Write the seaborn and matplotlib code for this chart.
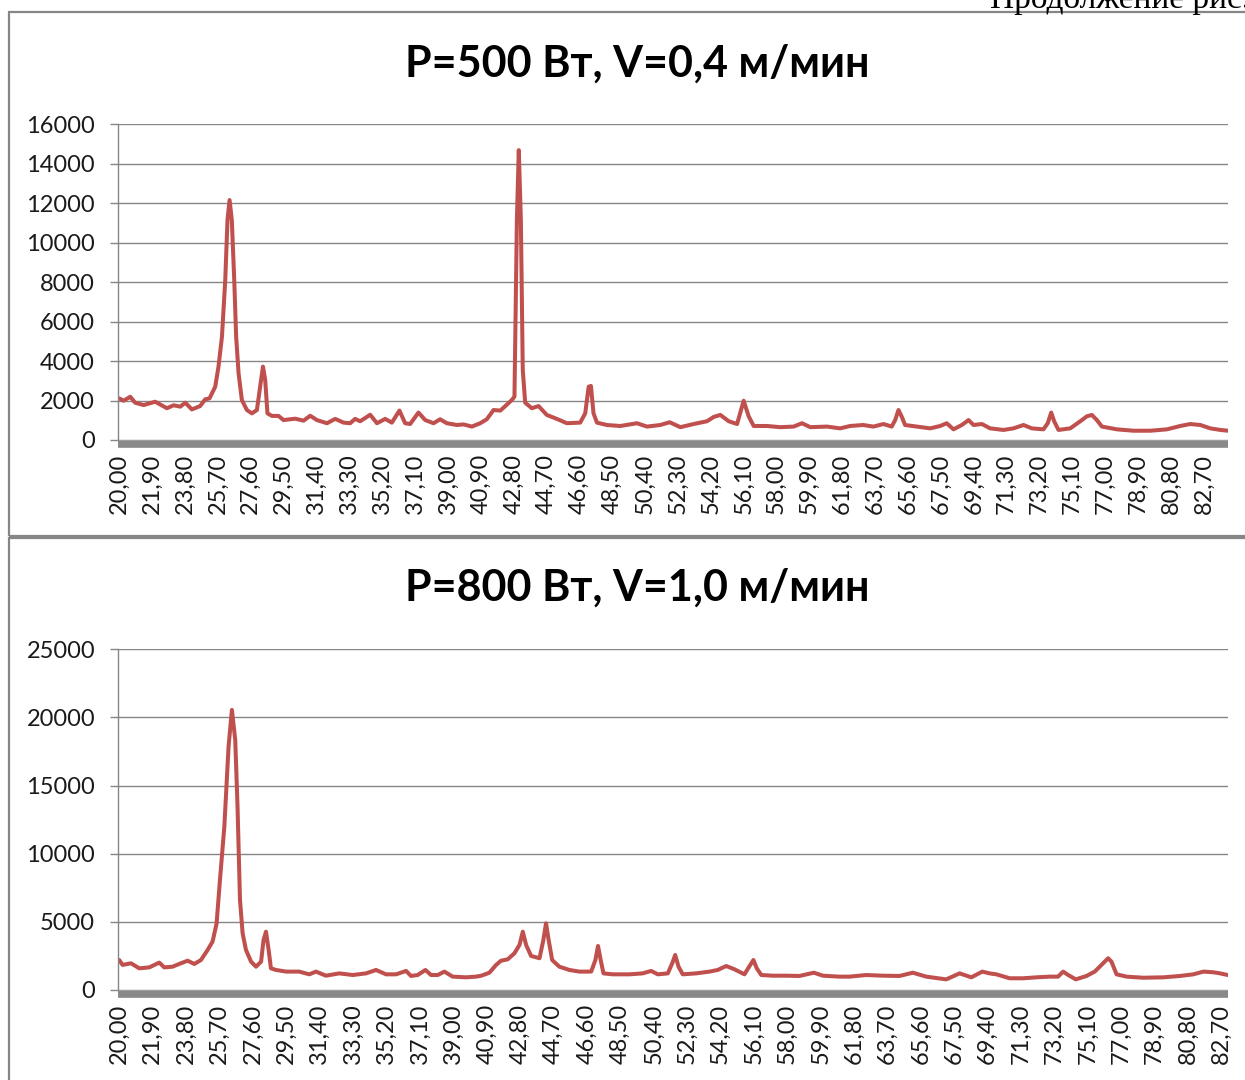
import matplotlib
matplotlib.use("Agg")
import matplotlib.pyplot as plt
from matplotlib.patches import Rectangle
import seaborn as sns
import pandas as pd

# 2theta, deg / intensity
theta_500 = [20.00, 20.25, 20.64, 20.92, 21.41, 22.08, 22.76, 23.14, 23.53, 23.82,
             24.20, 24.68, 24.97, 25.22, 25.55, 25.74, 25.94, 26.13, 26.26, 26.38,
             26.51, 26.65, 26.76, 26.90, 27.09, 27.38, 27.67, 27.96, 28.15, 28.31,
             28.44, 28.57, 28.83, 29.21, 29.50, 30.17, 30.66, 31.04, 31.43, 32.01,
             32.49, 32.97, 33.35, 33.64, 33.93, 34.51, 34.90, 35.38, 35.76, 36.20,
             36.53, 36.82, 37.30, 37.69, 38.17, 38.55, 38.94, 39.52, 39.90, 40.39,
             40.87, 41.25, 41.64, 42.03, 42.32, 42.70, 42.85, 42.99, 43.10, 43.22,
             43.33, 43.47, 43.85, 44.24, 44.72, 45.30, 45.88, 46.65, 46.94, 47.14,
             47.27, 47.42, 47.62, 48.19, 48.97, 49.93, 50.51, 51.28, 51.82, 52.44,
             53.21, 53.98, 54.37, 54.75, 55.24, 55.72, 56.10, 56.39, 56.68, 57.45,
             58.22, 58.99, 59.47, 59.95, 60.91, 61.68, 62.25, 63.00, 63.60, 64.18,
             64.66, 64.86, 65.05, 65.24, 65.43, 66.11, 66.88, 67.46, 67.84, 68.23,
             68.71, 69.10, 69.39, 69.87, 70.35, 71.12, 71.70, 72.28, 72.76, 73.43,
             73.68, 73.88, 74.05, 74.30, 74.98, 75.56, 75.94, 76.23, 76.52, 76.81,
             77.68, 78.64, 79.61, 80.57, 81.34, 81.92, 82.50, 83.08, 83.66, 84.10]
int_500 = [2110, 1990, 2190, 1890, 1770, 1940, 1610, 1760, 1690, 1890,
           1550, 1720, 2060, 2110, 2700, 3720, 5240, 8110, 11150, 12160,
           11150, 8110, 5240, 3380, 2030, 1520, 1350, 1520, 2700, 3720,
           3040, 1350, 1220, 1220, 1010, 1080, 980, 1230, 1010, 850,
           1070, 880, 850, 1070, 950, 1280, 850, 1070, 880, 1490,
           850, 810, 1390, 1010, 850, 1050, 850, 760, 790, 680,
           850, 1050, 1520, 1490, 1720, 2030, 2200, 11150, 14690, 11150,
           3550, 1890, 1610, 1720, 1270, 1070, 850, 880, 1350, 2700,
           2740, 1350, 880, 760, 710, 850, 680, 760, 900, 650,
           810, 950, 1170, 1270, 950, 810, 1990, 1200, 710, 710,
           650, 680, 850, 650, 680, 590, 710, 760, 680, 810,
           680, 1010, 1520, 1180, 760, 680, 590, 710, 850, 540,
           760, 1010, 760, 810, 590, 510, 590, 760, 590, 540,
           850, 1390, 950, 510, 590, 950, 1200, 1270, 1010, 680,
           540, 470, 470, 540, 710, 810, 760, 590, 510, 470]

theta_800 = [20.00, 20.19, 20.67, 21.14, 21.71, 22.28, 22.56, 23.03, 23.41, 23.89,
             24.27, 24.65, 25.03, 25.31, 25.54, 25.73, 25.98, 26.22, 26.41, 26.60,
             26.73, 26.87, 27.02, 27.21, 27.50, 27.78, 28.07, 28.21, 28.35, 28.50,
             28.63, 28.92, 29.49, 30.24, 30.81, 31.19, 31.76, 32.52, 33.28, 34.04,
             34.61, 35.18, 35.75, 36.32, 36.60, 36.98, 37.42, 37.74, 38.12, 38.50,
             38.97, 39.73, 40.30, 40.60, 41.06, 41.44, 41.72, 42.10, 42.48, 42.77,
             42.96, 43.15, 43.43, 43.91, 44.13, 44.28, 44.43, 44.63, 45.04, 45.61,
             46.18, 46.85, 47.09, 47.24, 47.39, 47.55, 48.08, 49.03, 49.78, 50.26,
             50.64, 51.21, 51.46, 51.63, 51.82, 52.06, 52.82, 53.58, 54.05, 54.53,
             55.00, 55.57, 55.90, 56.08, 56.27, 56.53, 57.18, 57.94, 58.70, 59.52,
             60.03, 60.98, 61.55, 62.50, 63.44, 64.39, 65.15, 65.91, 67.05, 67.81,
             68.48, 69.10, 69.52, 69.90, 70.66, 71.42, 72.18, 72.94, 73.41, 73.70,
             73.99, 74.42, 75.03, 75.50, 75.88, 76.26, 76.45, 76.74, 77.31, 78.26,
             79.40, 80.35, 81.11, 81.68, 82.25, 82.63, 83.06]
int_800 = [2200, 1840, 1960, 1590, 1660, 2010, 1660, 1710, 1910, 2150,
           1910, 2200, 2940, 3550, 4890, 8070, 11990, 17860, 20550, 18350,
           13460, 6610, 4160, 2940, 2080, 1710, 2080, 3670, 4280, 2940,
           1590, 1470, 1350, 1350, 1150, 1350, 1050, 1220, 1100, 1220,
           1470, 1150, 1150, 1400, 1030, 1100, 1470, 1100, 1100, 1350,
           980, 930, 980, 1050, 1270, 1840, 2150, 2250, 2690, 3300,
           4280, 3300, 2500, 2330, 3670, 4890, 3670, 2200, 1710, 1470,
           1350, 1350, 2200, 3230, 2200, 1220, 1150, 1150, 1220, 1400,
           1150, 1220, 1960, 2570, 1710, 1150, 1220, 1350, 1470, 1760,
           1520, 1150, 1840, 2200, 1590, 1100, 1050, 1050, 1030, 1270,
           1050, 980, 980, 1100, 1050, 1030, 1270, 980, 780, 1220,
           930, 1350, 1220, 1150, 860, 860, 930, 980, 980, 1350,
           1100, 780, 1030, 1350, 1840, 2330, 2080, 1150, 980, 900,
           930, 1030, 1150, 1350, 1300, 1220, 1100]

tick_values = [20.0, 21.9, 23.8, 25.7, 27.6, 29.5, 31.4, 33.3, 35.2, 37.1, 39.0,
               40.9, 42.8, 44.7, 46.6, 48.5, 50.4, 52.3, 54.2, 56.1, 58.0, 59.9,
               61.8, 63.7, 65.6, 67.5, 69.4, 71.3, 73.2, 75.1, 77.0, 78.9, 80.8, 82.7]
tick_labels = [f"{v:.2f}".replace(".", ",") for v in tick_values]

titles = ["P=500 Вт, V=0,4 м/мин", "P=800 Вт, V=1,0 м/мин"]

sns.set_theme(style="white")
plt.rcParams["font.family"] = ["Lato", "Noto Sans", "DejaVu Sans"]

W, H = 1245, 1080
fig = plt.figure(figsize=(W / 100, H / 100), dpi=100)

grey = "#868686"
red = "#C0504D"

# chart frames, like the Excel chart area border
fig.patches.append(Rectangle((9 / W, 1 - 536 / H), 1.1, (536 - 12) / H,
                             transform=fig.transFigure, fill=False,
                             edgecolor=grey, lw=1.6))
fig.patches.append(Rectangle((9 / W, -0.1), 1.1, 0.1 + 1 - 538 / H,
                             transform=fig.transFigure, fill=False,
                             edgecolor=grey, lw=1.6))

panels = [
    dict(x=theta_500, y=int_500, top=124.3, bottom=440, ymax=16000, step=2000,
         xmax=84.10, title_y=64),
    dict(x=theta_800, y=int_800, top=649.3, bottom=990, ymax=25000, step=5000,
         xmax=83.08, title_y=588),
]

for p, title in zip(panels, titles):
    ax = fig.add_axes([118 / W, 1 - p["bottom"] / H, (1228 - 118) / W,
                       (p["bottom"] - p["top"]) / H])
    df = pd.DataFrame({"theta": p["x"], "intensity": p["y"]})
    sns.lineplot(data=df, x="theta", y="intensity", ax=ax, color=red,
                 linewidth=2.9, estimator=None, sort=False)
    ax.set_xlim(19.93, p["xmax"])
    ax.set_ylim(0, p["ymax"])
    ax.set_yticks(list(range(0, p["ymax"] + 1, p["step"])))
    ax.set_xticks(tick_values)
    ax.set_xticklabels(tick_labels)
    ax.set_xlabel("")
    ax.set_ylabel("")
    ax.grid(axis="y", color=grey, linewidth=1.0)
    ax.set_axisbelow(True)
    for s in ["top", "right"]:
        ax.spines[s].set_visible(False)
    ax.spines["left"].set_color(grey)
    ax.spines["left"].set_linewidth(1.0)
    ax.spines["bottom"].set_color("#898989")
    ax.spines["bottom"].set_linewidth(5.5)
    ax.spines["bottom"].set_capstyle("butt")
    ax.spines["bottom"].set_position(("outward", 2.75))
    ax.tick_params(axis="y", left=True, length=5.5, width=1.0, color=grey,
                   pad=11, labelsize=17, labelcolor="#1a1a1a")
    ax.tick_params(axis="x", bottom=False, length=0, pad=7, labelsize=17,
                   labelcolor="#1a1a1a", labelrotation=90)
    fig.text(637.5 / W, 1 - p["title_y"] / H, title, ha="center", va="center",
             fontsize=31, fontweight="bold", color="black")

fig.text(990 / W, 1 - 8 / H, "Продолжение рис.2", ha="left", va="baseline",
         fontsize=24, family=["Liberation Serif", "DejaVu Serif"], color="black")

fig.savefig("out.png", dpi=100)
